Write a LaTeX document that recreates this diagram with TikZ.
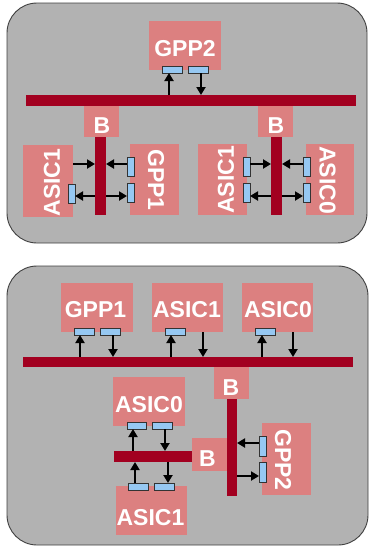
\documentclass[tikz,border=0pt]{standalone}
\usepackage{fontspec}
\setmainfont{Liberation Sans}
\usetikzlibrary{arrows.meta,calc}
\definecolor{panelgray}{RGB}{178,178,178}
\definecolor{boxred}{RGB}{220,128,128}
\definecolor{busred}{RGB}{162,0,32}
\definecolor{portblue}{RGB}{150,200,242}
\pgfdeclarelayer{front}
\pgfsetlayers{main,front}
\begin{document}
\begin{tikzpicture}[x=1pt,y=-1pt,
  sz/.style 2 args={minimum width=#1pt, minimum height=#2pt, inner sep=0pt, outer sep=0pt, anchor=north west},
  panel/.style={draw=black!75, line width=0.9pt, fill=panelgray, rounded corners=30pt},
  box/.style={fill=boxred},
  bus/.style={fill=busred},
  port/.style={fill=portblue, draw=black!80, line width=0.6pt},
  lbl/.style={text=white, font=\fontsize{23}{23}\selectfont\bfseries, inner sep=0pt},
  arr/.style={-{Triangle[length=8pt,width=9pt]}, line width=2pt, black},
  arrb/.style={{Triangle[length=8pt,width=9pt]}-{Triangle[length=8pt,width=9pt]}, line width=2pt, black}]
\useasboundingbox (0,0) rectangle (369,546);

% ---------------- top panel ----------------
\node[panel, sz={360}{240}] (top) at (7,3) {};
\node[box, sz={72}{49}] (gpp2T) at (149,21) {};
\node[lbl] (gpp2Tt) at (185,49) {GPP2};
\node[box, sz={35}{32}] (bTL) at (84,105) {};
\node[lbl] (bTLt) at (102,126) {B};
\node[box, sz={35}{32}] (bTR) at (258,105) {};
\node[lbl] (bTRt) at (276,126) {B};
\node[box, sz={50}{72}] (asic1TL) at (23,145) {};
\node[lbl, rotate=90] (asic1TLt) at (52,182.5) {ASIC1};
\node[box, sz={49}{71}] (gpp1TL) at (130,144) {};
\node[lbl, rotate=-90] (gpp1TLt) at (156,180) {GPP1};
\node[box, sz={49}{71}] (asic1TR) at (198,144) {};
\node[lbl, rotate=90] (asic1TRt) at (226,180) {ASIC1};
\node[box, sz={48}{71}] (asic0TR) at (306,144) {};
\node[lbl, rotate=-90] (asic0TRt) at (327.5,180) {ASIC0};

% ports
\node[port, sz={20}{7}] (pG2a) at (162,66) {};
\node[port, sz={20}{7}] (pG2b) at (188,66) {};
\node[port, sz={7}{19}] (pG1a) at (127,157) {};
\node[port, sz={7}{19}] (pG1b) at (127,183) {};
\node[port, sz={7}{19}] (pA1L) at (68,184) {};
\node[port, sz={7}{19}] (pA1Ra) at (243,157) {};
\node[port, sz={7}{19}] (pA1Rb) at (243,183) {};
\node[port, sz={7}{19}] (pA0Ra) at (303,157) {};
\node[port, sz={7}{19}] (pA0Rb) at (303,183) {};

\begin{pgfonlayer}{front}
\node[bus, sz={330}{11}] (bus1) at (26,95) {};
\node[bus, sz={11}{78}] (barTL) at (95,137) {};
\node[bus, sz={11}{78}] (barTR) at (271,137) {};
\end{pgfonlayer}

\coordinate (cG2a) at (169,0);
\coordinate (cG2b) at (201,0);
\coordinate (lvA) at (0,164);
\coordinate (lvB) at (0,196);

\draw[arr] (cG2a |- bus1.north) -- (cG2a |- pG2a.south);
\draw[arr] (cG2b |- pG2b.south) -- (cG2b |- bus1.north);

\draw[arr] (asic1TL.east |- lvA) -- (barTL.west |- lvA);
\draw[arr] (pG1a.west |- lvA) -- (barTL.east |- lvA);
\draw[arrb] (pA1L.east |- lvB) -- (pG1b.west |- lvB);

\draw[arr] (pA1Ra.east |- lvA) -- (barTR.west |- lvA);
\draw[arr] (pA0Ra.west |- lvA) -- (barTR.east |- lvA);
\draw[arrb] (pA1Rb.east |- lvB) -- (pA0Rb.west |- lvB);

% ---------------- bottom panel ----------------
\node[panel, sz={361}{279}] (bot) at (7,266) {};
\node[box, sz={72}{49}] (gpp1B) at (61,283) {};
\node[lbl] (gpp1Bt) at (95.5,310) {GPP1};
\node[box, sz={71}{49}] (asic1B) at (152,283) {};
\node[lbl] (asic1Bt) at (187,310) {ASIC1};
\node[box, sz={71}{49}] (asic0B) at (242,283) {};
\node[lbl] (asic0Bt) at (278,310) {ASIC0};
\node[box, sz={35}{32}] (bB1) at (214,367) {};
\node[lbl] (bB1t) at (231,388) {B};
\node[box, sz={35}{33}] (bB2) at (192,438) {};
\node[lbl] (bB2t) at (207.5,459) {B};
\node[box, sz={72}{49}] (asic0L) at (113,377) {};
\node[lbl] (asic0Lt) at (149,405) {ASIC0};
\node[box, sz={71}{49}] (asic1L) at (116,486) {};
\node[lbl] (asic1Lt) at (150.5,518) {ASIC1};
\node[box, sz={49}{72}] (gpp2B) at (262,423) {};
\node[lbl, rotate=-90] (gpp2Bt) at (283,460) {GPP2};

\node[port, sz={20}{7}] (pB1a) at (74,328) {};
\node[port, sz={20}{7}] (pB1b) at (100,328) {};
\node[port, sz={20}{7}] (pB2a) at (165,328) {};
\node[port, sz={20}{7}] (pB3a) at (255,328) {};
\node[port, sz={19}{7}] (pB4a) at (127,422) {};
\node[port, sz={20}{7}] (pB4b) at (152,422) {};
\node[port, sz={20}{7}] (pB5a) at (128,483) {};
\node[port, sz={20}{7}] (pB5b) at (154,483) {};
\node[port, sz={7}{20}] (pB6a) at (259,436) {};
\node[port, sz={7}{20}] (pB6b) at (259,462) {};

\begin{pgfonlayer}{front}
\node[bus, sz={330}{10}] (bus2) at (23,357) {};
\node[bus, sz={78}{11}] (hbar2) at (114,451) {};
\node[bus, sz={10}{97}] (vbar2) at (227,399) {};
\end{pgfonlayer}

\coordinate (c1) at (80,0);
\coordinate (c2) at (113,0);
\coordinate (c3) at (171,0);
\coordinate (c4) at (203,0);
\coordinate (c5) at (262,0);
\coordinate (c6) at (293,0);
\coordinate (c7) at (133,0);
\coordinate (c8) at (165,0);
\coordinate (c9) at (135,0);
\coordinate (c10) at (168,0);
\coordinate (lvC) at (0,443);
\coordinate (lvD) at (0,476);

\draw[arr] (c1 |- bus2.north) -- (c1 |- pB1a.south);
\draw[arr] (c2 |- pB1b.south) -- (c2 |- bus2.north);
\draw[arr] (c3 |- bus2.north) -- (c3 |- pB2a.south);
\draw[arr] (c4 |- asic1B.south) -- (c4 |- bus2.north);
\draw[arr] (c5 |- bus2.north) -- (c5 |- pB3a.south);
\draw[arr] (c6 |- asic0B.south) -- (c6 |- bus2.north);
\draw[arr] (c7 |- hbar2.north) -- (c7 |- pB4a.south);
\draw[arr] (c8 |- pB4b.south) -- (c8 |- hbar2.north);
\draw[arr] (c9 |- pB5a.north) -- (c9 |- hbar2.south);
\draw[arr] (c10 |- hbar2.south) -- (c10 |- pB5b.north);

\draw[arr] (pB6a.west |- lvC) -- (vbar2.east |- lvC);
\draw[arr] (vbar2.east |- lvD) -- (pB6b.west |- lvD);
\end{tikzpicture}
\end{document}
